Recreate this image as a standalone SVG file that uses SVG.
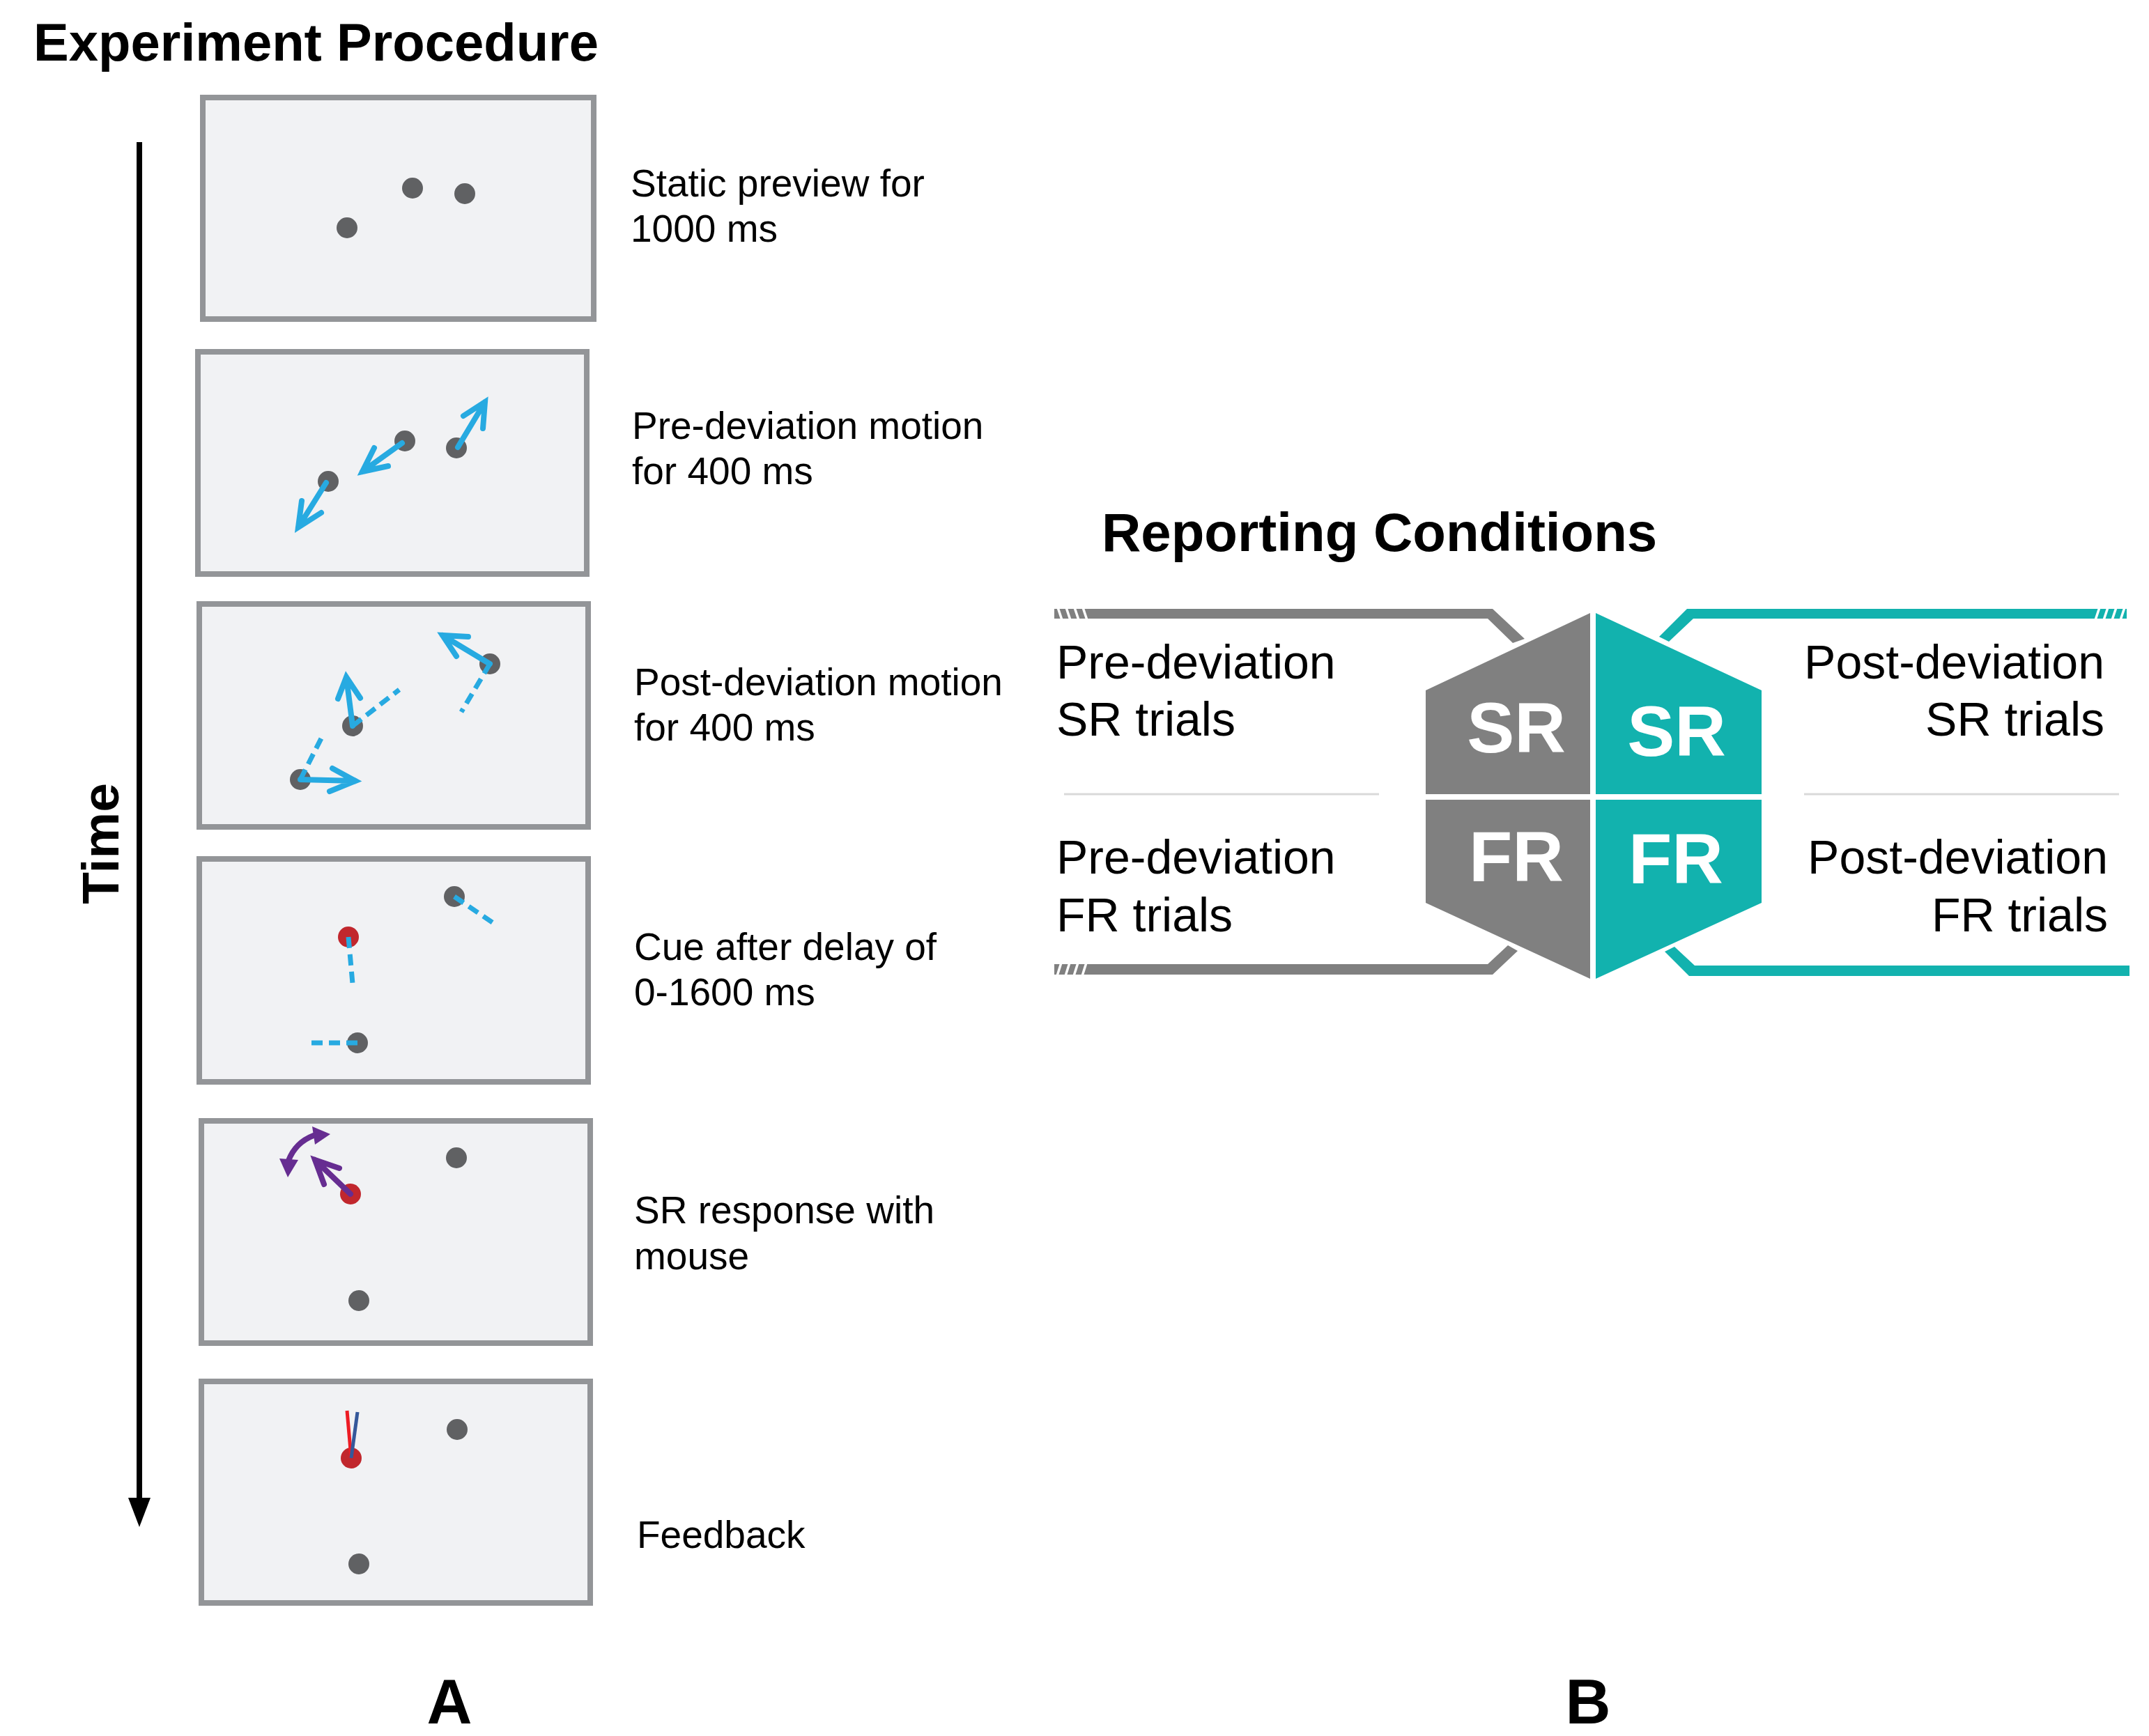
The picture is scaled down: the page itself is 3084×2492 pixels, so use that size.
<svg xmlns="http://www.w3.org/2000/svg" width="3084" height="2492" viewBox="0 0 3084 2492">
<style>
.frame{fill:#f1f2f4;stroke:#939598;stroke-width:8}
.dot{fill:#606163}
.red{fill:#c1272d}
.lbl{font-family:"Liberation Sans",Arial,sans-serif;font-size:55px;fill:#000}
.rl{font-family:"Liberation Sans",Arial,sans-serif;font-size:68px;fill:#000}
.ttl{font-family:"Liberation Sans",Arial,sans-serif;font-weight:bold;fill:#000}
.hx{font-family:"Liberation Sans",Arial,sans-serif;font-weight:bold;font-size:102px;fill:#fff;text-anchor:middle}
.arr{fill:none;stroke:#27aae1;stroke-width:8;stroke-linecap:round;stroke-linejoin:miter}
.dash{fill:none;stroke:#27aae1;stroke-width:7;stroke-dasharray:16 9}
.pur{fill:none;stroke:#662d91;stroke-width:8;stroke-linecap:round}
.hatch{stroke:#fff;stroke-width:3.5}
.sep{stroke:#d9d9d9;stroke-width:3}
</style>
<rect width="3084" height="2492" fill="#fff"/>
<text class="ttl" x="48" y="87" font-size="76">Experiment Procedure</text>
<g id="time-axis">
<line x1="200" y1="204" x2="200" y2="2155" stroke="#000" stroke-width="8"/>
<polygon points="184,2150 216,2150 200,2192" fill="#000"/>
<text class="ttl" font-size="75" text-anchor="middle" transform="translate(170,1211) rotate(-90)">Time</text>
</g>
<g id="frame1">
<rect class="frame" x="291" y="140" width="561" height="318"/>
<circle class="dot" cx="592" cy="270" r="15"/>
<circle class="dot" cx="667" cy="278" r="15"/>
<circle class="dot" cx="498" cy="327" r="15"/>
<text class="lbl" x="905" y="282">Static preview for</text>
<text class="lbl" x="905" y="347">1000 ms</text>
</g>
<g id="frame2">
<rect class="frame" x="284" y="505" width="558" height="319"/>
<circle class="dot" cx="581" cy="633" r="15"/>
<circle class="dot" cx="655" cy="643" r="15"/>
<circle class="dot" cx="471" cy="691" r="15"/>
<path class="arr" d="M657,642 L696,577 M665,597 L696,577 L693,615"/>
<path class="arr" d="M577,636 L520,677 M557,669 L520,677 L537,643"/>
<path class="arr" d="M468,693 L428,757 M461,736 L428,757 L433,719"/>
<text class="lbl" x="907" y="630">Pre-deviation motion</text>
<text class="lbl" x="907" y="695">for 400 ms</text>
</g>
<g id="frame3">
<rect class="frame" x="286" y="867" width="558" height="320"/>
<circle class="dot" cx="703" cy="953" r="15"/>
<circle class="dot" cx="506" cy="1042" r="15"/>
<circle class="dot" cx="431" cy="1119" r="15"/>
<path class="dash" d="M703,953 L662,1022"/>
<path class="dash" d="M506,1042 L573,990"/>
<path class="dash" d="M431,1119 L462,1058"/>
<path class="arr" d="M703,953 L635,912 M672,914 L635,912 L655,942"/>
<path class="arr" d="M506,1042 L497,972 M485,1003 L497,972 L517,1002"/>
<path class="arr" d="M431,1119 L510,1121 M477,1103 L510,1121 L473,1136"/>
<text class="lbl" x="910" y="998">Post-deviation motion</text>
<text class="lbl" x="910" y="1063">for 400 ms</text>
</g>
<g id="frame4">
<rect class="frame" x="286" y="1233" width="558" height="320"/>
<circle class="dot" cx="652" cy="1287" r="15"/>
<circle class="red" cx="500" cy="1345" r="15"/>
<circle class="dot" cx="513" cy="1497" r="15"/>
<path class="dash" d="M652,1287 L708,1325"/>
<path class="dash" d="M500,1345 L506,1412"/>
<path class="dash" d="M513,1497 L442,1497"/>
<text class="lbl" x="910" y="1378">Cue after delay of</text>
<text class="lbl" x="910" y="1443">0-1600 ms</text>
</g>
<g id="frame5">
<rect class="frame" x="289" y="1609" width="558" height="319"/>
<circle class="dot" cx="655" cy="1662" r="15"/>
<circle class="red" cx="503" cy="1714" r="15"/>
<circle class="dot" cx="515" cy="1867" r="15"/>
<path class="pur" d="M503,1714 L452,1665 M487,1677 L452,1665 L465,1700" stroke-linejoin="miter"/>
<path class="pur" d="M450,1630 Q424,1640 414,1666" stroke-width="7"/>
<polygon points="474,1628 448,1617 452,1643" fill="#662d91"/>
<polygon points="413,1690 401,1663 428,1665" fill="#662d91"/>
<text class="lbl" x="910" y="1756">SR response with</text>
<text class="lbl" x="910" y="1822">mouse</text>
</g>
<g id="frame6">
<rect class="frame" x="289" y="1983" width="558" height="318"/>
<circle class="dot" cx="656" cy="2052" r="15"/>
<circle class="red" cx="504" cy="2093" r="15"/>
<circle class="dot" cx="515" cy="2245" r="15"/>
<line x1="504" y1="2093" x2="498" y2="2025" stroke="#ed1c24" stroke-width="5"/>
<line x1="504" y1="2093" x2="513" y2="2027" stroke="#35589a" stroke-width="5"/>
<text class="lbl" x="914" y="2222">Feedback</text>
</g>
<text class="ttl" x="645" y="2474" font-size="90" text-anchor="middle">A</text>
<text class="ttl" x="2279" y="2474" font-size="90" text-anchor="middle">B</text>
<text class="ttl" x="1581" y="791" font-size="78">Reporting Conditions</text>
<g id="connectors">
<polygon points="1513,874 2142,874 2188,917 2171,923 2135,888 1513,888" fill="#808080"/>
<polygon points="1513,1384 2135,1384 2164,1357 2178,1365 2142,1399 1513,1399" fill="#808080"/>
<polygon points="3052,874 2421,874 2381,914 2395,921 2430,888 3052,888" fill="#12b2ae"/>
<polygon points="3056,1386 2432,1386 2403,1359 2389,1366 2424,1401 3056,1401" fill="#12b2ae"/>
<g class="hatch">
<line x1="1518" y1="872" x2="1524" y2="890"/>
<line x1="1530" y1="872" x2="1536" y2="890"/>
<line x1="1542" y1="872" x2="1548" y2="890"/>
<line x1="1554" y1="872" x2="1560" y2="890"/>
<line x1="1523" y1="1382" x2="1517" y2="1401"/>
<line x1="1535" y1="1382" x2="1529" y2="1401"/>
<line x1="1547" y1="1382" x2="1541" y2="1401"/>
<line x1="1559" y1="1382" x2="1553" y2="1401"/>
<line x1="3013" y1="872" x2="3007" y2="890"/>
<line x1="3025" y1="872" x2="3019" y2="890"/>
<line x1="3037" y1="872" x2="3031" y2="890"/>
<line x1="3049" y1="872" x2="3043" y2="890"/>
</g>
<line class="sep" x1="1527" y1="1140" x2="1979" y2="1140"/>
<line class="sep" x1="2589" y1="1140" x2="3041" y2="1140"/>
</g>
<g id="pre-sr">
<polygon points="2046,991 2282,880 2282,1140 2046,1140" fill="#808080"/>
<text class="hx" x="2176" y="1080">SR</text>
<text class="rl" x="1516" y="974">Pre-deviation</text>
<text class="rl" x="1516" y="1056">SR trials</text>
</g>
<g id="pre-fr">
<polygon points="2046,1148 2282,1148 2282,1405 2046,1296" fill="#808080"/>
<text class="hx" x="2176" y="1265">FR</text>
<text class="rl" x="1516" y="1254">Pre-deviation</text>
<text class="rl" x="1516" y="1337">FR trials</text>
</g>
<g id="post-sr">
<polygon points="2290,880 2528,991 2528,1140 2290,1140" fill="#12b2ae"/>
<text class="hx" x="2406" y="1085">SR</text>
<text class="rl" x="3020" y="974" text-anchor="end">Post-deviation</text>
<text class="rl" x="3020" y="1056" text-anchor="end">SR trials</text>
</g>
<g id="post-fr">
<polygon points="2290,1148 2528,1148 2528,1296 2290,1405" fill="#12b2ae"/>
<text class="hx" x="2405" y="1268">FR</text>
<text class="rl" x="3025" y="1254" text-anchor="end">Post-deviation</text>
<text class="rl" x="3025" y="1337" text-anchor="end">FR trials</text>
</g>
</svg>
